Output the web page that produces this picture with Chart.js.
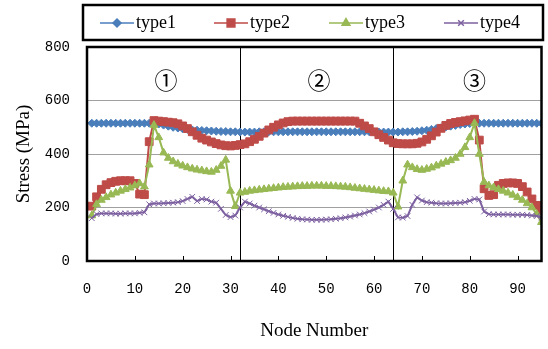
<!DOCTYPE html>
<html>
<head>
<meta charset="utf-8">
<script src="https://cdn.jsdelivr.net/npm/chart.js@4.4.0/dist/chart.umd.min.js"></script>
<style>
  html, body { margin: 0; padding: 0; background: #fff; }
</style>
</head>
<body>
<canvas id="myChart" width="548" height="349"></canvas>
<script>
// 节点编号 1..95
var nodes = [];
for (var i = 1; i <= 95; i++) nodes.push(i);

var seriesNames = ['type1', 'type2', 'type3', 'type4'];

var type1 = [515,515,515,515,515,515,515,515,515,515,515,515,515,515,
  512,508,504,500,497,494,492,490,489,488,487,486,485,484,484,483,483,482,
  482,482,482,483,483,483,483,483,483,483,483,483,483,483,483,483,483,483,483,483,483,483,483,483,483,483,483,482,482,482,482,482,
  482,483,483,484,485,487,489,492,495,498,501,504,507,510,512,514,515,
  515,515,515,515,515,515,515,515,515,515,515,515,515,515];

var type2 = [205,240,268,285,293,298,300,300,300,290,250,248,446,525,523,521,519,517,513,505,495,483,470,459,452,445,439,434,431,430,432,435,
  438,446,455,466,478,490,500,509,516,521,523,523,523,523,523,523,523,523,523,523,523,523,523,523,515,505,495,483,472,462,452,442,
  439,438,438,438,440,445,455,468,482,496,507,514,518,521,524,527,530,452,270,245,248,283,290,292,292,290,278,258,232,208,188];

var type3 = [170,212,228,238,248,255,262,268,274,282,290,278,360,508,462,405,385,372,363,356,350,345,341,338,335,333,340,355,378,262,205,255,
  258,262,264,266,268,270,272,274,276,277,278,279,280,280,281,281,281,280,280,279,278,277,275,273,271,269,267,265,263,261,260,255,
  203,300,360,350,343,340,344,349,356,363,370,376,385,400,425,462,515,400,295,282,275,268,262,255,247,238,228,215,200,175,145];

var type4 = [160,175,178,178,178,177,177,178,178,178,180,182,212,215,215,216,217,218,220,224,232,240,224,232,230,222,218,195,172,164,170,200,
  222,215,207,200,193,186,180,174,169,165,161,158,156,155,154,154,154,155,156,158,160,163,166,170,174,179,185,192,200,210,222,195,
  163,162,168,210,238,226,220,218,216,215,215,216,217,218,220,225,232,230,185,175,174,174,174,174,173,173,173,172,170,168,162];

var xTicks = [0, 10, 20, 30, 40, 50, 60, 70, 80, 90];
var yTicks = [0, 200, 400, 600, 800];
var dividers = [32, 64];
var sections = ['①', '②', '③'];
var sectionAt = [16.5, 48.5, 81];

var colors = ['#4A7EBB', '#BE4B48', '#98B954', '#7D60A0'];
var markers = ['rectRot', 'rect', 'triangle', 'crossRot'];
var markerSize = [4, 5.5, 4.5, 4];

var serif = "'Liberation Serif', 'Times New Roman', serif";
var mono = "'Liberation Mono', monospace";

function marker(ctx, i, x, y) {
    Chart.helpers.drawPoint(ctx, {
        pointStyle: markers[i],
        radius: markerSize[i],
        rotation: 0,
        borderWidth: 1
    }, x, y);
}

// 边框、刻度、分区线、图例
var overlay = {
    id: 'overlay',
    beforeDatasetsDraw: function(chart) {
        var ctx = chart.ctx, xs = chart.scales.x, a = chart.chartArea;
        ctx.save();
        ctx.strokeStyle = '#000';
        ctx.lineWidth = 1;
        dividers.forEach(function(v) {
            var px = Math.round(xs.getPixelForValue(v)) + 0.5;
            ctx.beginPath();
            ctx.moveTo(px, a.top);
            ctx.lineTo(px, a.bottom);
            ctx.stroke();
        });
        ctx.restore();
    },
    afterDraw: function(chart) {
        var ctx = chart.ctx, xs = chart.scales.x, ys = chart.scales.y, a = chart.chartArea;
        ctx.save();

        // x 轴内侧刻度
        ctx.strokeStyle = '#000';
        ctx.lineWidth = 1;
        xTicks.forEach(function(v) {
            if (v === 0) return;
            var px = Math.round(xs.getPixelForValue(v)) + 0.5;
            ctx.beginPath();
            ctx.moveTo(px, a.bottom);
            ctx.lineTo(px, a.bottom - 5);
            ctx.stroke();
        });

        // 绘图区边框
        ctx.lineWidth = 2.5;
        ctx.strokeRect(a.left, a.top, a.right - a.left, a.bottom - a.top);

        // 分区编号
        ctx.fillStyle = '#000';
        ctx.font = "23px 'Noto Sans CJK JP', 'DejaVu Sans', sans-serif";
        ctx.textAlign = 'center';
        ctx.textBaseline = 'middle';
        sections.forEach(function(s, k) {
            ctx.fillText(s, xs.getPixelForValue(sectionAt[k]), ys.getPixelForValue(676));
        });

        // 图例
        ctx.lineWidth = 2.5;
        ctx.strokeStyle = '#000';
        ctx.strokeRect(83, 5, 460, 35);
        ctx.font = '18px ' + serif;
        ctx.textAlign = 'left';
        var x0 = [100, 214, 329, 444];
        chart.data.datasets.forEach(function(ds, k) {
            var x = x0[k], y = 23;
            ctx.strokeStyle = colors[k];
            ctx.fillStyle = colors[k];
            ctx.lineWidth = 1.5;
            ctx.beginPath();
            ctx.moveTo(x, y);
            ctx.lineTo(x + 34, y);
            ctx.stroke();
            marker(ctx, k, x + 17, y);
            ctx.fillStyle = '#000';
            ctx.fillText(ds.label, x + 36, y);
        });
        ctx.restore();
    }
};

var datasets = [type1, type2, type3, type4].map(function(vals, k) {
    return {
        label: seriesNames[k],
        data: vals,
        borderColor: colors[k],
        backgroundColor: colors[k],
        borderWidth: 2,
        pointStyle: markers[k],
        pointRadius: markerSize[k],
        pointBorderWidth: 1,
        tension: 0,
        order: 4 - k
    };
});

var ctx = document.getElementById('myChart').getContext('2d');
var myChart = new Chart(ctx, {
    type: 'line',
    data: { labels: nodes, datasets: datasets },
    options: {
        responsive: false,
        animation: false,
        events: [],
        layout: { padding: { top: 47, right: 3, left: 0, bottom: 0 } },
        plugins: {
            legend: { display: false },
            tooltip: { enabled: false }
        },
        scales: {
            x: {
                type: 'linear',
                min: 0,
                max: 95,
                afterFit: function(s) { s.height = 88; },
                afterBuildTicks: function(s) {
                    s.ticks = xTicks.map(function(v) { return { value: v }; });
                },
                grid: { display: false, drawTicks: false },
                border: { display: false },
                ticks: {
                    padding: 20,
                    maxRotation: 0,
                    color: '#000',
                    font: { family: mono, size: 14 }
                },
                title: {
                    display: true,
                    text: 'Node Number',
                    color: '#000',
                    font: { family: serif, size: 19 },
                    padding: { top: 0, bottom: 7 }
                }
            },
            y: {
                min: 0,
                max: 800,
                afterFit: function(s) { s.width = 87; },
                afterBuildTicks: function(s) {
                    s.ticks = yTicks.map(function(v) { return { value: v }; });
                },
                grid: { color: '#a0a0a0', lineWidth: 1, drawTicks: false },
                border: { display: false },
                ticks: {
                    padding: 17,
                    color: '#000',
                    font: { family: mono, size: 14 }
                },
                title: {
                    display: true,
                    text: 'Stress (MPa)',
                    color: '#000',
                    font: { family: serif, size: 19 },
                    padding: { top: 13, bottom: 0 }
                }
            }
        }
    },
    plugins: [overlay]
});
</script>
</body>
</html>
